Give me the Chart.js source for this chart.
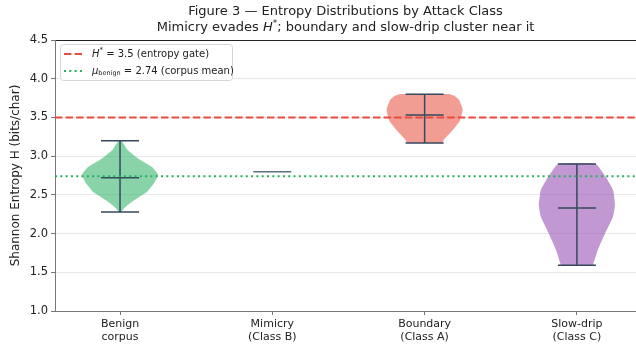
<!DOCTYPE html>
<html>
<head>
<meta charset="utf-8">
<script src="https://cdn.jsdelivr.net/npm/chart.js@4"></script>
<style>
  html, body { margin: 0; padding: 0; background: #fff; }
</style>
</head>
<body>
<canvas id="entropyChart" width="636" height="346"></canvas>
<script>
const categories = [['Benign', 'corpus'], ['Mimicry', '(Class B)'], ['Boundary', '(Class A)'], ['Slow-drip', '(Class C)']];
const positions = [0, 1, 2, 3];
const mins = [2.28, 2.80, 3.17, 1.59];
const maxs = [3.20, 2.80, 3.80, 2.90];
const medians = [2.72, 2.80, 3.53, 2.33];

// density outline per class: entropy level -> relative width
const benignLevels = [2.28, 2.33, 2.43, 2.54, 2.65, 2.76, 2.86, 2.95, 3.08, 3.20];
const benignDensity = [0.04, 0.11, 0.37, 0.71, 0.89, 1.0, 0.84, 0.53, 0.20, 0.04];
const boundaryLevels = [3.17, 3.21, 3.32, 3.45, 3.60, 3.73, 3.78, 3.80];
const boundaryDensity = [0.47, 0.50, 0.71, 0.92, 1.0, 0.90, 0.78, 0.66];
const slowDripLevels = [1.59, 1.79, 2.00, 2.22, 2.37, 2.56, 2.73, 2.90];
const slowDripDensity = [0.42, 0.55, 0.74, 0.95, 1.0, 0.95, 0.76, 0.50];

const entropyGate = 3.5;
const benignMean = 2.74;
const yTicks = [1.0, 1.5, 2.0, 2.5, 3.0, 3.5, 4.0, 4.5];

const FONT = '"DejaVu Sans", sans-serif';
const X_MIN = -0.427, X_MAX = 3.388;
const HALF_WIDTH = 0.25;
const CAP = 0.125;
const INK = '#34495e';

function outline(pos, levels, density) {
  const right = levels.map((y, i) => ({x: pos + density[i] * HALF_WIDTH, y: y}));
  const left = levels.map((y, i) => ({x: pos - density[i] * HALF_WIDTH, y: y})).reverse();
  return right.concat(left);
}

function violin(pos, levels, density, color) {
  return {
    data: outline(pos, levels, density),
    backgroundColor: color,
    borderWidth: 0,
    fill: 'shape',
    tension: 0.12,
    pointRadius: 0,
    order: 3
  };
}

function whiskers(i) {
  const p = positions[i];
  const gap = {x: p, y: null};
  const single = mins[i] === maxs[i];
  return {
    data: [
      {x: p - CAP, y: maxs[i]}, {x: p + CAP, y: maxs[i]}, gap,
      {x: p, y: maxs[i]}, {x: p, y: mins[i]}, gap,
      {x: p - CAP, y: mins[i]}, {x: p + CAP, y: mins[i]}, gap,
      {x: p - CAP, y: medians[i]}, {x: p + CAP, y: medians[i]}
    ],
    borderColor: single ? '#5f6e7d' : INK,
    borderWidth: 1.5,
    pointRadius: 0,
    fill: false,
    order: 2
  };
}

function refLine(value, color, dash) {
  return {
    data: [{x: X_MIN, y: value}, {x: X_MAX, y: value}],
    borderColor: color,
    borderWidth: 2,
    borderDash: dash,
    pointRadius: 0,
    fill: false,
    order: 1
  };
}

// draw a sequence of [text, font, dy] pieces left to right
function drawRuns(ctx, runs, x, y) {
  let cx = x;
  runs.forEach(([text, font, dy]) => {
    ctx.font = font;
    ctx.fillText(text, cx, y + (dy || 0));
    cx += ctx.measureText(text).width;
  });
  return cx - x;
}

function runsWidth(ctx, runs) {
  let w = 0;
  runs.forEach(([text, font]) => { ctx.font = font; w += ctx.measureText(text).width; });
  return w;
}

const titlePlugin = {
  id: 'mixedTitle',
  afterDraw(chart) {
    const ctx = chart.ctx;
    const area = chart.chartArea;
    const cx = (area.left + area.right) / 2;
    ctx.save();
    ctx.fillStyle = '#222';
    ctx.textBaseline = 'alphabetic';
    const line1 = [['Figure 3 \u2014 Entropy Distributions by Attack Class', '13px ' + FONT]];
    const line2 = [
      ['Mimicry evades ', '13px ' + FONT],
      ['H', 'italic 13px ' + FONT],
      ['*', '9px ' + FONT, -5],
      ['; boundary and slow-drip cluster near it', '13px ' + FONT]
    ];
    drawRuns(ctx, line1, cx - runsWidth(ctx, line1) / 2, 14.5);
    drawRuns(ctx, line2, cx - runsWidth(ctx, line2) / 2, 31);
    ctx.restore();
  }
};

const legendPlugin = {
  id: 'refLegend',
  afterDatasetsDraw(chart) {
    const ctx = chart.ctx;
    const area = chart.chartArea;
    const x0 = area.left + 5, y0 = area.top + 4;
    const w = 172, h = 36;
    ctx.save();
    ctx.beginPath();
    ctx.roundRect(x0 + 0.5, y0 + 0.5, w, h, 3);
    ctx.fillStyle = 'rgba(255,255,255,0.85)';
    ctx.fill();
    ctx.strokeStyle = '#d5d5d5';
    ctx.lineWidth = 1;
    ctx.stroke();

    const rows = [
      {color: '#e74c3c', dash: [7.4, 3.2], y: y0 + 10, runs: [
        ['H', 'italic 10px ' + FONT],
        ['*', '7px ' + FONT, -4],
        [' = 3.5 (entropy gate)', '10px ' + FONT]
      ]},
      {color: '#27ae60', dash: [2, 3.3], y: y0 + 27, runs: [
        ['\u03bc', 'italic 10px ' + FONT],
        ['benign', '6.5px ' + FONT, 2],
        [' = 2.74 (corpus mean)', '10px ' + FONT]
      ]}
    ];
    rows.forEach(r => {
      ctx.beginPath();
      ctx.setLineDash(r.dash);
      ctx.strokeStyle = r.color;
      ctx.lineWidth = 2;
      ctx.moveTo(x0 + 4, r.y);
      ctx.lineTo(x0 + 25, r.y);
      ctx.stroke();
      ctx.setLineDash([]);
      ctx.fillStyle = '#222';
      ctx.textBaseline = 'middle';
      drawRuns(ctx, r.runs, x0 + 32, r.y);
    });
    ctx.restore();
  }
};

const datasets = [
  violin(positions[0], benignLevels, benignDensity, 'rgba(39,174,96,0.55)'),
  violin(positions[2], boundaryLevels, boundaryDensity, 'rgba(231,76,60,0.55)'),
  violin(positions[3], slowDripLevels, slowDripDensity, 'rgba(142,68,173,0.55)'),
  ...positions.map((p, i) => whiskers(i)),
  refLine(entropyGate, '#e74c3c', [7.4, 3.2]),
  refLine(benignMean, '#27ae60', [2, 3.3])
];

new Chart(document.getElementById('entropyChart'), {
  type: 'line',
  data: {datasets: datasets},
  options: {
    responsive: false,
    animation: false,
    devicePixelRatio: 1,
    layout: {padding: {top: 40, right: 0, left: 0, bottom: 0}},
    plugins: {legend: {display: false}, title: {display: false}, tooltip: {enabled: false}},
    scales: {
      x: {
        type: 'linear',
        min: X_MIN,
        max: X_MAX,
        afterBuildTicks: s => { s.ticks = positions.map(v => ({value: v})); },
        afterFit: s => { s.height = 35; },
        ticks: {
          callback: v => categories[v],
          font: {family: FONT, size: 11, lineHeight: 1.15},
          color: '#222',
          padding: 3,
          maxRotation: 0
        },
        grid: {drawOnChartArea: false, tickLength: 4, tickColor: '#777'},
        border: {color: '#777', width: 1}
      },
      y: {
        min: 1.0,
        max: 4.5,
        afterBuildTicks: s => { s.ticks = yTicks.map(v => ({value: v})); },
        afterFit: s => { s.width = 55; },
        ticks: {
          callback: v => v.toFixed(1),
          font: {family: FONT, size: 11.5},
          color: '#222',
          padding: 3
        },
        grid: {
          color: c => (c.tick && c.tick.value === 4.5) ? '#222' : '#e8e8e8',
          tickLength: 4,
          tickColor: '#777'
        },
        border: {color: '#777', width: 1},
        title: {
          display: true,
          text: 'Shannon Entropy H (bits/char)',
          font: {family: FONT, size: 12},
          color: '#222',
          padding: {top: 9, bottom: 0}
        }
      }
    }
  },
  plugins: [legendPlugin, titlePlugin]
});
</script>
</body>
</html>
